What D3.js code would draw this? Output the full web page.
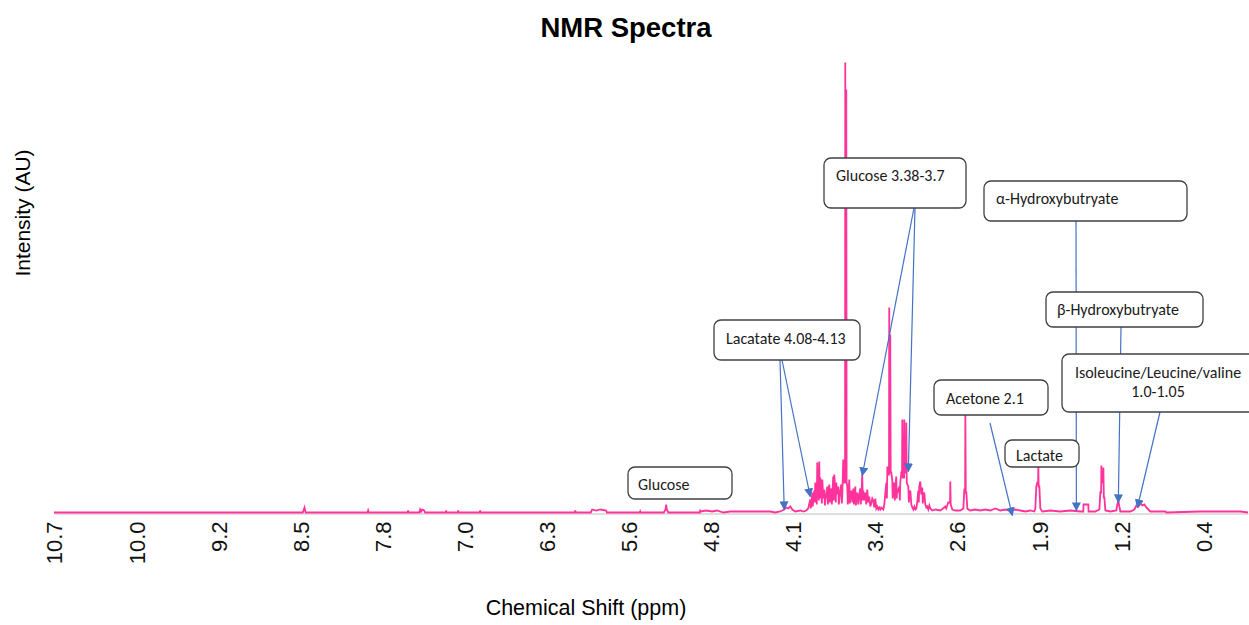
<!DOCTYPE html>
<html>
<head>
<meta charset="utf-8">
<script src="https://cdn.jsdelivr.net/npm/d3@7"></script>
<style>
  body { margin: 0; background: #fff; }
  svg { display: block; }
</style>
</head>
<body>
<svg id="chart" width="1249" height="625"></svg>
<script>
// Spectrum trace: [chemical shift (ppm), intensity (AU)]
const spectrum = [
  [10.700, 0], [8.470, 0], [8.455, 5], [8.445, 0],
  [7.890, 0], [7.885, 2], [7.880, 0],
  [7.530, 0], [7.527, 2], [7.522, 0],
  [7.425, 0], [7.419, 3], [7.410, 1], [7.400, 3], [7.383, 2], [7.375, 0],
  [7.190, 0], [7.186, 2], [7.182, 0],
  [7.082, 0], [7.078, 2], [7.074, 0],
  [6.885, 0], [6.881, 2], [6.877, 0],
  [6.033, 0], [6.029, 2], [6.025, 0],
  [5.890, 0], [5.877, 3], [5.840, 2], [5.805, 3], [5.752, 2], [5.745, 0],
  [5.450, 0], [5.447, 1], [5.444, 0],
  [5.235, 0], [5.220, 3], [5.214, 8], [5.208, 3], [5.195, 0],
  [4.912, 0], [4.909, 2], [4.900, 1], [4.860, 2], [4.800, 1], [4.760, 2], [4.700, 0],
  [4.640, 1], [4.500, 1], [4.371, 1], [4.281, 1], [4.237, 0], [4.192, 1],
  [4.156, 3], [4.138, 5], [4.120, 4], [4.102, 6], [4.084, 3], [4.057, 1],
  [4.012, 2], [3.985, 1], [3.959, 2], [3.941, 4],
  [3.923, 13], [3.918, 4], [3.914, 8], [3.905, 20], [3.900, 6], [3.896, 12], [3.887, 22],
  [3.882, 10], [3.878, 30], [3.869, 18], [3.864, 8], [3.860, 50], [3.855, 15], [3.851, 28],
  [3.846, 12], [3.842, 51], [3.838, 14], [3.833, 35], [3.824, 22], [3.819, 9],
  [3.815, 33], [3.806, 14], [3.797, 23], [3.792, 7], [3.788, 12], [3.779, 18], [3.770, 26],
  [3.765, 8], [3.761, 15], [3.752, 28], [3.748, 10], [3.744, 20], [3.735, 24], [3.730, 8],
  [3.726, 14], [3.717, 36], [3.712, 12], [3.708, 38], [3.699, 25], [3.694, 10], [3.690, 30],
  [3.681, 18], [3.672, 26], [3.667, 8], [3.663, 12], [3.654, 22], [3.645, 28], [3.640, 9],
  [3.636, 16], [3.627, 53], [3.618, 30],
  [3.611, 30], [3.609, 450], [3.606, 40], [3.602, 40], [3.600, 423], [3.597, 30],
  [3.591, 26], [3.586, 8], [3.582, 18], [3.573, 33], [3.568, 9], [3.564, 14], [3.555, 22],
  [3.546, 10], [3.537, 24], [3.532, 8], [3.528, 16], [3.519, 26], [3.514, 7], [3.510, 13],
  [3.502, 20], [3.493, 8], [3.484, 18], [3.475, 24], [3.470, 8], [3.466, 14], [3.457, 38],
  [3.452, 12], [3.448, 22], [3.439, 12], [3.430, 20], [3.421, 8], [3.412, 23], [3.403, 10],
  [3.394, 16], [3.385, 6], [3.376, 9], [3.367, 14], [3.358, 12], [3.349, 5], [3.340, 14],
  [3.331, 4], [3.322, 6], [3.313, 3], [3.304, 5], [3.295, 3], [3.286, 5], [3.277, 4],
  [3.268, 3], [3.259, 8], [3.250, 20], [3.241, 30], [3.236, 14], [3.232, 46], [3.223, 38],
  [3.217, 38], [3.215, 205], [3.211, 40], [3.208, 40], [3.206, 178], [3.202, 40],
  [3.197, 40], [3.188, 33], [3.184, 14], [3.179, 26], [3.170, 30], [3.165, 12], [3.161, 22],
  [3.152, 36], [3.148, 14], [3.143, 24], [3.134, 20], [3.125, 26], [3.120, 12], [3.116, 30],
  [3.107, 40],
  [3.100, 40], [3.098, 93], [3.094, 35], [3.089, 35], [3.082, 35], [3.080, 93],
  [3.076, 40], [3.064, 40], [3.062, 90], [3.058, 30], [3.053, 28], [3.044, 26],
  [3.039, 10], [3.035, 18], [3.026, 22], [3.017, 8], [3.008, 5], [2.999, 3], [2.990, 6],
  [2.981, 3], [2.972, 4], [2.964, 10], [2.955, 22], [2.950, 10], [2.946, 26], [2.937, 31],
  [2.928, 18], [2.919, 25], [2.914, 9], [2.910, 15], [2.901, 20], [2.892, 8], [2.883, 5],
  [2.874, 6], [2.865, 3], [2.856, 7], [2.847, 4], [2.838, 3], [2.829, 2],
  [2.802, 3], [2.757, 2], [2.722, 5], [2.713, 6], [2.704, 4], [2.686, 10],
  [2.670, 10], [2.668, 31], [2.664, 8], [2.650, 3], [2.623, 2], [2.578, 2],
  [2.551, 4], [2.542, 23], [2.535, 23], [2.533, 98], [2.529, 20], [2.524, 20],
  [2.515, 4], [2.506, 3], [2.488, 2], [2.444, 3], [2.399, 2], [2.354, 3],
  [2.309, 2], [2.264, 4], [2.220, 2], [2.175, 3], [2.130, 2], [2.085, 3],
  [2.040, 2], [1.995, 1], [1.951, 2], [1.915, 1], [1.906, 4],
  [1.897, 26], [1.888, 30], [1.881, 30], [1.879, 46], [1.876, 26], [1.870, 26],
  [1.861, 4], [1.843, 1], [1.771, 2], [1.682, 1], [1.592, 2], [1.502, 1],
  [1.476, 1], [1.474, 8], [1.431, 8], [1.429, 1], [1.368, 1],
  [1.332, 3], [1.323, 20], [1.316, 20], [1.314, 47], [1.310, 30], [1.305, 30],
  [1.298, 30], [1.296, 45], [1.292, 15], [1.287, 15], [1.278, 2], [1.233, 1],
  [1.180, 2], [1.171, 8], [1.162, 12], [1.153, 6], [1.144, 1], [1.055, 1],
  [1.018, 3], [1.000, 7], [0.982, 6], [0.964, 9], [0.946, 7], [0.929, 8],
  [0.911, 5], [0.893, 3], [0.875, 1], [0.740, 1], [0.731, 0], [0.427, 1],
  [0.158, 1], [0.068, 1], [0.000, 0]
];

// Axis tick labels (evenly spaced from 10.7 to 0.4 ppm)
const tickLabels = ["10.7", "10.0", "9.2", "8.5", "7.8", "7.0", "6.3", "5.6",
                    "4.8", "4.1", "3.4", "2.6", "1.9", "1.2", "0.4"];

// Callout texts and the spectral points each one points at ([ppm, intensity])
const calloutText = [
  ["Glucose"],
  ["Lacatate 4.08-4.13"],
  ["Glucose 3.38-3.7"],
  ["Acetone 2.1"],
  ["Lactate"],
  ["α-Hydroxybutryate"],
  ["β-Hydroxybutryate"],
  ["Isoleucine/Leucine/valine", "1.0-1.05"]
];
const calloutTargets = [
  [],
  [[4.156, 3], [3.923, 16]],
  [[3.457, 37], [3.044, 41]],
  [[2.112, -3]],
  [],
  [[1.538, 2]],
  [[1.162, 10]],
  [[0.991, 5]]
];

// Placement of the callout boxes on the page
const calloutLayout = [
  { box: [628, 467, 104, 32], text: [638, 484], anchor: "start", from: [] },
  { box: [714, 320, 146, 40], text: [726, 338], anchor: "start", from: [[780, 360], [782, 360]] },
  { box: [824, 158, 142, 50], text: [836, 175], anchor: "start", from: [[914, 208], [915, 208]] },
  { box: [934, 380, 114, 35], text: [946, 398], anchor: "start", from: [[990, 423]] },
  { box: [1005, 440, 74, 27], text: [1016, 455], anchor: "start", from: [] },
  { box: [984, 181, 203, 40], text: [996, 198], anchor: "start", from: [[1076, 221]] },
  { box: [1046, 292, 157, 35], text: [1057, 309], anchor: "start", from: [[1121, 327]] },
  { box: [1062, 354, 194, 58], text: [1158, 372], anchor: "middle", from: [[1160, 412]] }
];

const svg = d3.select("#chart");

const x = d3.scaleLinear().domain([10.7, 0]).range([54, 1248]);
const y = d3.scaleLinear().domain([0, 450]).range([512.5, 62.5]);

// Title and axis titles
svg.append("text")
  .attr("x", 626).attr("y", 37)
  .attr("text-anchor", "middle")
  .style("font-family", "'Liberation Sans', Arial, sans-serif")
  .style("font-weight", "bold")
  .style("font-size", "27.5px")
  .attr("fill", "#000")
  .text("NMR Spectra");

svg.append("text")
  .attr("x", 586).attr("y", 615)
  .attr("text-anchor", "middle")
  .style("font-family", "'Liberation Sans', Arial, sans-serif")
  .style("font-size", "21.5px")
  .attr("fill", "#000")
  .text("Chemical Shift (ppm)");

svg.append("text")
  .attr("transform", "translate(30,213) rotate(-90)")
  .attr("text-anchor", "middle")
  .style("font-family", "'Liberation Sans', Arial, sans-serif")
  .style("font-size", "21px")
  .attr("fill", "#000")
  .text("Intensity (AU)");

// X axis with rotated labels
const tickPositions = tickLabels.map((_, i) => 10.7 - i * (10.7 - 0.4) / (tickLabels.length - 1));
const xAxis = d3.axisBottom(x)
  .tickValues(tickPositions)
  .tickFormat((d, i) => tickLabels[i])
  .tickSize(0)
  .tickSizeOuter(0);

const axisG = svg.append("g")
  .attr("transform", `translate(0,${y(0) + 1})`)
  .call(xAxis);
axisG.select(".domain").attr("stroke", "#bfbfbf").attr("stroke-width", 1.2);
axisG.selectAll(".tick text")
  .attr("transform", "rotate(-90)")
  .attr("text-anchor", "end")
  .attr("x", -8)
  .attr("y", 0)
  .attr("dy", "0.36em")
  .style("font-family", "'Liberation Sans', Arial, sans-serif")
  .style("font-size", "22px")
  .attr("fill", "#111");

// Spectrum trace
const line = d3.line().x(d => x(d[0])).y(d => y(d[1]));
svg.append("path")
  .datum(spectrum)
  .attr("d", line)
  .attr("fill", "none")
  .attr("stroke", "#ff3399")
  .attr("stroke-width", 1.8)
  .attr("stroke-linejoin", "miter");

// Arrow head marker
svg.append("defs").append("marker")
  .attr("id", "arrowhead")
  .attr("viewBox", "0 0 10 10")
  .attr("refX", 9).attr("refY", 5)
  .attr("markerUnits", "userSpaceOnUse")
  .attr("markerWidth", 9).attr("markerHeight", 9)
  .attr("orient", "auto")
  .append("path")
  .attr("d", "M0,0 L10,5 L0,10 Z")
  .attr("fill", "#4472c4");

// Callouts: leader arrows, then boxes with text
const callouts = svg.append("g");
calloutText.forEach((lines, i) => {
  const lay = calloutLayout[i];
  calloutTargets[i].forEach((t, k) => {
    const [sx, sy] = lay.from[k];
    callouts.append("line")
      .attr("x1", sx).attr("y1", sy)
      .attr("x2", x(t[0])).attr("y2", y(t[1]))
      .attr("stroke", "#4472c4")
      .attr("stroke-width", 1.2)
      .attr("marker-end", "url(#arrowhead)");
  });
});
calloutText.forEach((lines, i) => {
  const lay = calloutLayout[i];
  const [bx, by, bw, bh] = lay.box;
  callouts.append("rect")
    .attr("x", bx).attr("y", by)
    .attr("width", bw).attr("height", bh)
    .attr("rx", 7).attr("ry", 7)
    .attr("fill", "#fff")
    .attr("stroke", "#404040")
    .attr("stroke-width", 1.3);
  const t = callouts.append("text")
    .attr("x", lay.text[0]).attr("y", lay.text[1])
    .attr("text-anchor", lay.anchor)
    .style("font-family", "Calibri, Carlito, Lato, sans-serif")
    .style("font-size", "16px")
    .attr("fill", "#1a1a1a");
  lines.forEach((s, j) => {
    t.append("tspan")
      .attr("x", lay.text[0])
      .attr("dy", j === 0 ? "0.35em" : "19px")
      .text(s);
  });
});
</script>
</body>
</html>
